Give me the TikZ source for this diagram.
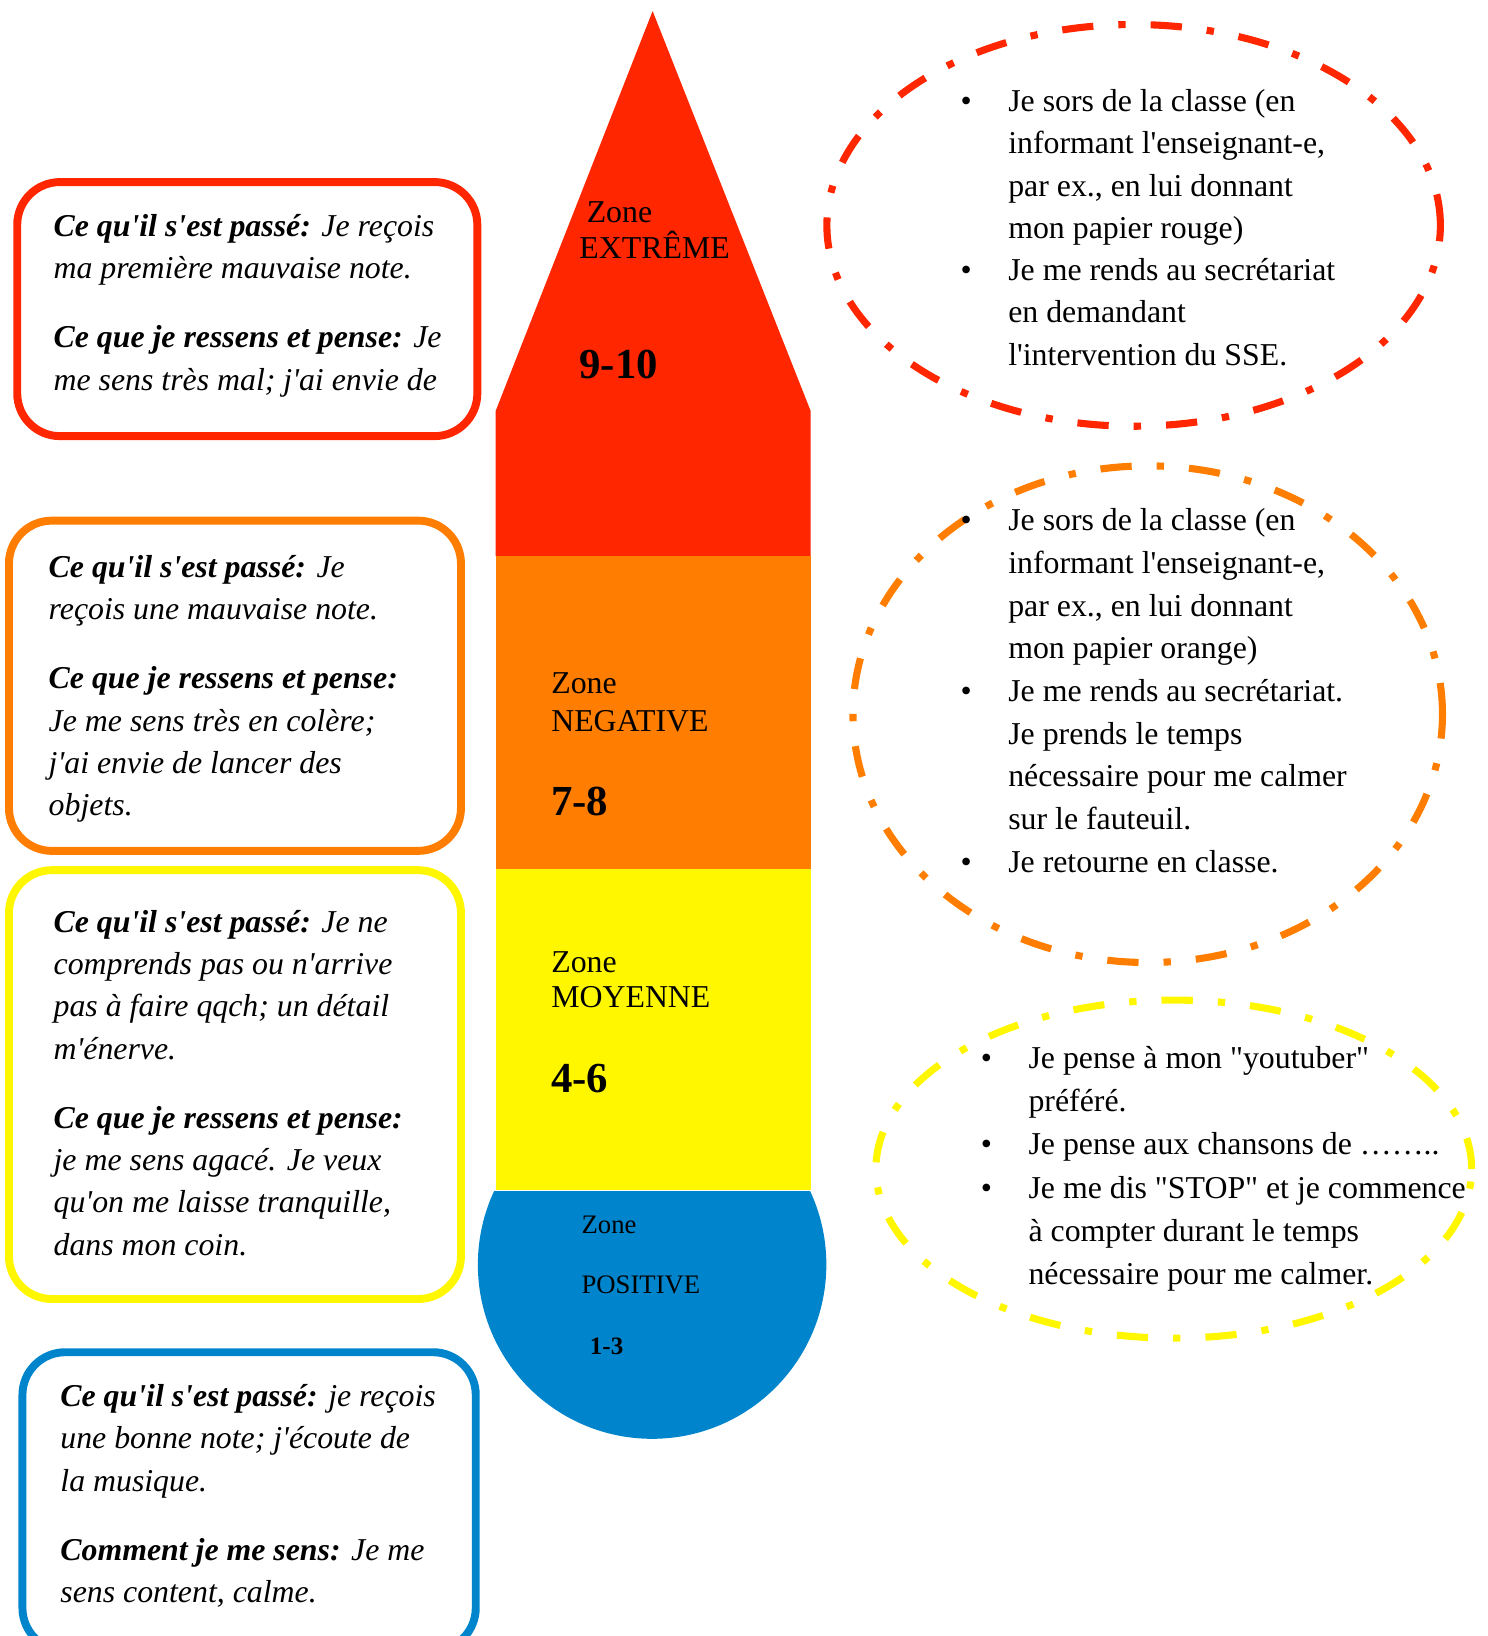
\documentclass[tikz,border=0pt]{standalone}
\usepackage{fontspec}
\setmainfont{Liberation Serif}
\usetikzlibrary{shapes.geometric}
\newcommand{\ap}{\textquotesingle}
\newcommand{\dq}{\textquotedbl}
\newcommand{\bul}{\llap{\textbullet\hspace{17.5pt}}}
\definecolor{zred}{RGB}{255,38,0}
\definecolor{zorange}{RGB}{255,125,0}
\definecolor{zyellow}{RGB}{255,247,0}
\definecolor{zblue}{RGB}{0,133,204}
\begin{document}
\begin{tikzpicture}[x=0.5pt,y=-0.5pt,
  box/.style={rounded corners=20.5pt, line width=3.8pt},
  ell/.style={line width=3.4pt, dash pattern=on 15pt off 12pt on 3.5pt off 12pt},
  lefttxt/.style={anchor=base west, align=left, inner sep=0pt, font=\fontsize{15.25}{20.3}\selectfont\itshape},
  elltxt/.style={anchor=base west, align=left, inner sep=0pt, font=\fontsize{15.25}{20.45}\selectfont},
  zlab/.style={anchor=base west, inner sep=0pt, font=\fontsize{15.25}{18}\selectfont},
  znum/.style={anchor=base west, inner sep=0pt, font=\fontsize{20.5}{24}\selectfont\bfseries}]
\useasboundingbox (0,0) rectangle (1426,1568);

% left boxes
\draw[box, draw=zred] (16.5,174.5) rectangle (457.5,418);
\draw[box, draw=zorange] (8.6,499) rectangle (441.8,815.5);
\draw[box, draw=zyellow] (8.6,834) rectangle (441.8,1245);
\draw[box, draw=zblue] (21.5,1296) rectangle (456,1582);

% (anchor = baseline of the last line)
\node[lefttxt] (tred) at (51,374) {{\bfseries Ce qu\ap il s\ap est passé:} Je reçois\\
ma première mauvaise note.\\[12.75pt]
{\bfseries Ce que je ressens et pense:} Je\\
me sens très mal; j\ap ai envie de};

\node[lefttxt] (torange) at (46.3,782) {{\bfseries Ce qu\ap il s\ap est passé:} Je\\
reçois une mauvaise note.\\[12.75pt]
{\bfseries Ce que je ressens et pense:}\\
Je me sens très en colère;\\
j\ap ai envie de lancer des\\
objets.};

\node[lefttxt] (tyellow) at (51,1203) {{\bfseries Ce qu\ap il s\ap est passé:} Je ne\\
comprends pas ou n\ap arrive\\
pas à faire qqch; un détail\\
m\ap énerve.\\[12.75pt]
{\bfseries Ce que je ressens et pense:}\\
je me sens agacé. Je veux\\
qu\ap on me laisse tranquille,\\
dans mon coin.};

\node[lefttxt] (tblue) at (57.5,1536) {{\bfseries Ce qu\ap il s\ap est passé:} je reçois\\
une bonne note; j\ap écoute de\\
la musique.\\[12.75pt]
{\bfseries Comment je me sens:} Je me\\
sens content, calme.};

% central column
\fill[zred] (475,394) -- (625.5,10.6) -- (777,394) -- (777,533) -- (475,533) -- cycle;
\fill[zorange] (475,533) rectangle (777,833);
\fill[zyellow] (475,833) rectangle (777,1141);
\begin{scope}
  \clip (400,1142) rectangle (900,1420);
  \fill[zblue] (625,1212) circle (83.5pt);
\end{scope}

\node[zlab] (z1a) at (562,213) {Zone};
\node[zlab] (z1b) at (555,248) {EXTRÊME};
\node[znum] (z1c) at (555,363) {9-10};
\node[zlab] (z2a) at (528,665) {Zone};
\node[zlab] (z2b) at (528,701) {NEGATIVE};
\node[znum] (z2c) at (528,782) {7-8};
\node[zlab] (z3a) at (528,932) {Zone};
\node[zlab] (z3b) at (528,966) {MOYENNE};
\node[znum] (z3c) at (528,1047) {4-6};
\node[zlab, font=\fontsize{12.8}{15}\selectfont] (z4a) at (557,1182) {Zone};
\node[zlab, font=\fontsize{12.8}{15}\selectfont] (z4b) at (557,1240) {POSITIVE};
\node[znum, font=\fontsize{12}{15}\selectfont\bfseries] (z4c) at (565,1298.5) {1-3};

% ellipses
\draw[ell, draw=zred] (1086.5,216) ellipse [x radius=147pt, y radius=96.25pt];
\draw[ell, draw=zorange] (1100,684.5) ellipse [x radius=141.25pt, y radius=119pt];
\draw[ell, draw=zyellow] (1125,1120.5) ellipse [x radius=142.75pt, y radius=81pt];

\node[elltxt, font=\fontsize{15.25}{20.25}\selectfont] (ered) at (966,350) {\bul Je sors de la classe (en\\
informant l\ap enseignant-e,\\
par ex., en lui donnant\\
mon papier rouge)\\
\bul Je me rends au secrétariat\\
en demandant\\
l\ap intervention du SSE.};

\node[elltxt] (eorange) at (966,836) {\bul Je sors de la classe (en\\
informant l\ap enseignant-e,\\
par ex., en lui donnant\\
mon papier orange)\\
\bul Je me rends au secrétariat.\\
Je prends le temps\\
nécessaire pour me calmer\\
sur le fauteuil.\\
\bul Je retourne en classe.};

\node[elltxt, font=\fontsize{15.25}{20.75}\selectfont] (eyellow) at (985.4,1231.3) {\bul Je pense à mon \dq youtuber\dq\\
préféré.\\
\bul Je pense aux chansons de ……..\\
\bul Je me dis \dq STOP\dq{} et je commence\\
à compter durant le temps\\
nécessaire pour me calmer.};
\end{tikzpicture}
\end{document}
